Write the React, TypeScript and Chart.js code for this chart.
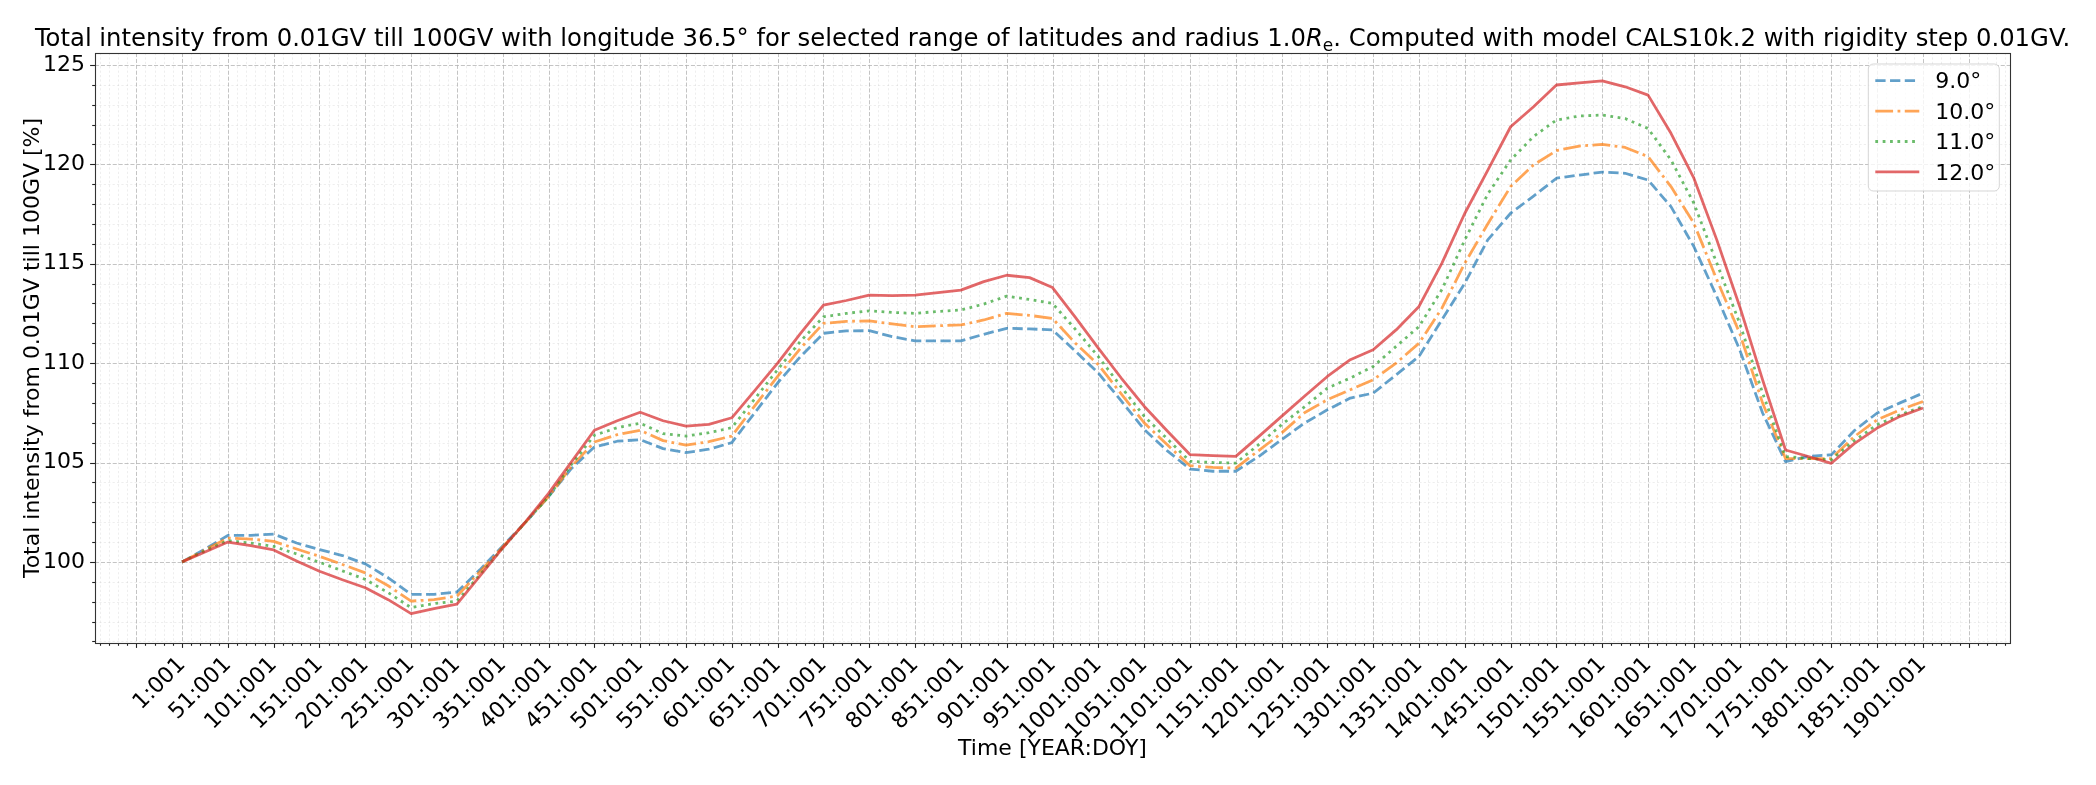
import React, { useEffect, useRef } from 'react';
import { Chart, registerables } from 'chart.js';

Chart.register(...registerables);

// ---------------- data ----------------
const YEARS = [1, 26, 51, 76, 101, 126, 151, 176, 201, 226, 251, 276, 301, 326, 351, 376, 401, 426, 451, 476, 501, 526, 551, 576, 601, 626, 651, 676, 701, 726, 751, 776, 801, 826, 851, 876, 901, 926, 951, 976, 1001, 1026, 1051, 1076, 1101, 1126, 1151, 1176, 1201, 1226, 1251, 1276, 1301, 1326, 1351, 1376, 1401, 1426, 1451, 1476, 1501, 1526, 1551, 1576, 1601, 1626, 1651, 1676, 1701, 1726, 1751, 1776, 1801, 1826, 1851, 1876, 1901];

const LAT_9 = [100.0, 100.65, 101.33, 101.33, 101.4, 100.95, 100.62, 100.32, 99.9, 99.2, 98.37, 98.37, 98.48, 99.6, 100.8, 102.0, 103.28, 104.7, 105.78, 106.07, 106.15, 105.7, 105.5, 105.67, 106.0, 107.5, 109.0, 110.33, 111.5, 111.62, 111.63, 111.33, 111.12, 111.12, 111.12, 111.45, 111.75, 111.72, 111.67, 110.6, 109.5, 108.1, 106.67, 105.6, 104.67, 104.56, 104.56, 105.3, 106.15, 106.98, 107.65, 108.24, 108.49, 109.41, 110.34, 112.18, 114.02, 116.2, 117.54, 118.4, 119.3, 119.46, 119.61, 119.55, 119.21, 117.87, 115.86, 113.35, 110.67, 107.49, 105.04, 105.3, 105.39, 106.6, 107.49, 108.0, 108.49];

const LAT_10 = [100.0, 100.6, 101.2, 101.15, 101.03, 100.65, 100.28, 99.87, 99.45, 98.8, 98.03, 98.1, 98.28, 99.5, 100.75, 102.0, 103.28, 104.8, 106.03, 106.4, 106.62, 106.1, 105.87, 106.05, 106.33, 107.85, 109.33, 110.75, 112.0, 112.1, 112.12, 111.97, 111.83, 111.88, 111.92, 112.17, 112.5, 112.4, 112.25, 111.0, 109.92, 108.45, 107.0, 105.9, 104.84, 104.75, 104.72, 105.6, 106.48, 107.5, 108.16, 108.66, 109.16, 110.0, 111.0, 112.76, 115.03, 117.0, 118.88, 119.97, 120.69, 120.92, 121.0, 120.85, 120.39, 118.88, 117.03, 114.2, 111.5, 107.99, 105.2, 105.2, 105.2, 106.3, 107.15, 107.65, 108.07];

const LAT_11 = [100.0, 100.55, 101.07, 100.95, 100.78, 100.4, 99.98, 99.55, 99.12, 98.45, 97.7, 97.9, 98.03, 99.35, 100.7, 102.0, 103.28, 104.9, 106.37, 106.75, 106.98, 106.45, 106.33, 106.5, 106.75, 108.2, 109.67, 111.1, 112.33, 112.5, 112.63, 112.55, 112.5, 112.6, 112.67, 112.97, 113.37, 113.2, 113.0, 111.7, 110.33, 108.8, 107.33, 106.2, 105.06, 105.0, 104.97, 105.9, 106.9, 107.8, 108.74, 109.25, 109.83, 110.84, 111.84, 113.7, 116.2, 118.5, 120.22, 121.4, 122.23, 122.43, 122.48, 122.3, 121.8, 120.22, 118.04, 115.03, 112.0, 108.49, 105.3, 105.2, 105.13, 106.1, 106.9, 107.4, 107.82];

const LAT_12 = [100.0, 100.5, 101.0, 100.82, 100.6, 100.05, 99.53, 99.1, 98.7, 98.1, 97.4, 97.65, 97.87, 99.28, 100.7, 102.03, 103.45, 105.03, 106.62, 107.1, 107.53, 107.1, 106.83, 106.92, 107.25, 108.62, 110.0, 111.5, 112.92, 113.15, 113.42, 113.4, 113.42, 113.55, 113.67, 114.1, 114.42, 114.3, 113.8, 112.3, 110.75, 109.25, 107.83, 106.6, 105.4, 105.35, 105.31, 106.3, 107.32, 108.33, 109.33, 110.17, 110.67, 111.67, 112.85, 115.03, 117.54, 119.7, 121.89, 122.9, 123.99, 124.1, 124.2, 123.9, 123.48, 121.56, 119.3, 116.2, 112.85, 109.16, 105.63, 105.3, 104.96, 105.95, 106.73, 107.32, 107.74];

const SERIES_LABELS = ['9.0°', '10.0°', '11.0°', '12.0°'];

// x tick positions (years); labelled ones get "YEAR:001"
const X_MAJOR_TICKS = [-49, 1, 51, 101, 151, 201, 251, 301, 351, 401, 451, 501, 551, 601, 651, 701, 751, 801, 851, 901, 951, 1001, 1051, 1101, 1151, 1201, 1251, 1301, 1351, 1401, 1451, 1501, 1551, 1601, 1651, 1701, 1751, 1801, 1851, 1901, 1951];
const X_LABELLED_YEARS = [1, 51, 101, 151, 201, 251, 301, 351, 401, 451, 501, 551, 601, 651, 701, 751, 801, 851, 901, 951, 1001, 1051, 1101, 1151, 1201, 1251, 1301, 1351, 1401, 1451, 1501, 1551, 1601, 1651, 1701, 1751, 1801, 1851, 1901];
const Y_MAJOR_TICKS = [100, 105, 110, 115, 120, 125];

const X_MIN = -94;
const X_MAX = 1996;
const Y_MIN = 95.92;
const Y_MAX = 125.6;

const TITLE_BEFORE = 'Total intensity from 0.01GV till 100GV with longitude 36.5° for selected range of latitudes and radius 1.0';
const TITLE_SYMBOL = 'R';
const TITLE_SUB = 'e';
const TITLE_AFTER = '. Computed with model CALS10k.2 with rigidity step 0.01GV.';
const X_TITLE = 'Time [YEAR:DOY]';
const Y_TITLE = 'Total intensity from 0.01GV till 100GV [%]';

// ---------------- styles ----------------
const FONT = "'DejaVu Sans', sans-serif";
const LW = 2.78;
const STYLES = [
  { color: 'rgba(31,119,180,0.7)', dash: [3.7 * LW, 1.6 * LW] },
  { color: 'rgba(255,127,14,0.7)', dash: [6.4 * LW, 1.6 * LW, 1 * LW, 1.6 * LW] },
  { color: 'rgba(44,160,44,0.7)', dash: [1 * LW, 1.65 * LW] },
  { color: 'rgba(214,39,40,0.7)', dash: [] as number[] },
];
const SERIES = [LAT_9, LAT_10, LAT_11, LAT_12];

const gridPlugin = {
  id: 'mplGrid',
  beforeDatasetsDraw(chart: any) {
    const { ctx, chartArea: a, scales } = chart;
    const x = scales.x;
    const y = scales.y;
    ctx.save();
    ctx.beginPath();
    ctx.rect(a.left, a.top, a.right - a.left, a.bottom - a.top);
    ctx.clip();
    // minor grid
    ctx.lineWidth = 0.8;
    ctx.strokeStyle = 'rgba(176,176,176,0.28)';
    ctx.setLineDash([2.2, 2.2]);
    for (let v = -89; v <= 1996; v += 10) {
      if (X_MAJOR_TICKS.includes(v)) continue;
      const px = Math.round(x.getPixelForValue(v)) + 0.5;
      ctx.beginPath(); ctx.moveTo(px, a.top); ctx.lineTo(px, a.bottom); ctx.stroke();
    }
    for (let v = 96; v <= 125; v += 1) {
      if (Y_MAJOR_TICKS.includes(v)) continue;
      const py = Math.round(y.getPixelForValue(v)) + 0.5;
      ctx.beginPath(); ctx.moveTo(a.left, py); ctx.lineTo(a.right, py); ctx.stroke();
    }
    // major grid
    ctx.lineWidth = 1;
    ctx.strokeStyle = 'rgba(176,176,176,0.75)';
    ctx.setLineDash([4.1, 1.8]);
    for (const v of X_MAJOR_TICKS) {
      const px = Math.round(x.getPixelForValue(v)) + 0.5;
      ctx.beginPath(); ctx.moveTo(px, a.top); ctx.lineTo(px, a.bottom); ctx.stroke();
    }
    for (const v of Y_MAJOR_TICKS) {
      const py = Math.round(y.getPixelForValue(v)) + 0.5;
      ctx.beginPath(); ctx.moveTo(a.left, py); ctx.lineTo(a.right, py); ctx.stroke();
    }
    ctx.restore();
  },
  afterDraw(chart: any) {
    const { ctx, chartArea: a, scales } = chart;
    const x = scales.x;
    const y = scales.y;
    ctx.save();
    ctx.setLineDash([]);
    ctx.strokeStyle = '#222';
    ctx.lineWidth = 1.1;
    // ticks
    for (let v = -89; v <= 1996; v += 10) {
      const major = X_MAJOR_TICKS.includes(v);
      const px = Math.round(x.getPixelForValue(v)) + 0.5;
      ctx.beginPath(); ctx.moveTo(px, a.bottom); ctx.lineTo(px, a.bottom + (major ? 4.9 : 2.8)); ctx.stroke();
    }
    for (let v = 96; v <= 125; v += 1) {
      const major = Y_MAJOR_TICKS.includes(v);
      const py = Math.round(y.getPixelForValue(v)) + 0.5;
      ctx.beginPath(); ctx.moveTo(a.left, py); ctx.lineTo(a.left - (major ? 4.9 : 2.8), py); ctx.stroke();
    }
    // frame
    ctx.strokeStyle = '#333';
    ctx.lineWidth = 1.1;
    ctx.strokeRect(Math.round(a.left) + 0.5, Math.round(a.top) + 0.5, Math.round(a.right - a.left), Math.round(a.bottom - a.top));
    ctx.restore();
  },
};

const titlePlugin = {
  id: 'mplTitle',
  afterDraw(chart: any) {
    const { ctx, chartArea: a } = chart;
    const fs = 24.3;
    const parts = [
      { t: TITLE_BEFORE, font: `${fs}px ${FONT}`, dy: 0 },
      { t: TITLE_SYMBOL, font: `italic ${fs}px ${FONT}`, dy: 0 },
      { t: TITLE_SUB, font: `${(fs * 0.7).toFixed(1)}px ${FONT}`, dy: fs * 0.2 },
      { t: TITLE_AFTER, font: `${fs}px ${FONT}`, dy: 0 },
    ];
    ctx.save();
    let total = 0;
    const widths = parts.map((p) => {
      ctx.font = p.font;
      const w = ctx.measureText(p.t).width;
      total += w;
      return w;
    });
    let xx = (a.left + a.right) / 2 - total / 2;
    const base = a.top - 7;
    ctx.fillStyle = '#000';
    ctx.textBaseline = 'alphabetic';
    ctx.textAlign = 'left';
    parts.forEach((p, i) => {
      ctx.font = p.font;
      ctx.fillText(p.t, xx, base + p.dy);
      xx += widths[i];
    });
    ctx.restore();
  },
};

const legendPlugin = {
  id: 'mplLegend',
  afterDraw(chart: any) {
    const { ctx, chartArea: a } = chart;
    const bw = 131;
    const bh = 127;
    const bx = a.right - 10.7 - bw;
    const by = a.top + 11;
    const r = 5;
    ctx.save();
    ctx.beginPath();
    ctx.moveTo(bx + r, by);
    ctx.arcTo(bx + bw, by, bx + bw, by + bh, r);
    ctx.arcTo(bx + bw, by + bh, bx, by + bh, r);
    ctx.arcTo(bx, by + bh, bx, by, r);
    ctx.arcTo(bx, by, bx + bw, by, r);
    ctx.closePath();
    ctx.fillStyle = 'rgba(255,255,255,0.8)';
    ctx.fill();
    ctx.strokeStyle = 'rgba(204,204,204,0.8)';
    ctx.lineWidth = 1;
    ctx.stroke();
    chart.data.datasets.forEach((ds: any, i: number) => {
      const ly = by + 16.7 + i * 30.4;
      ctx.beginPath();
      ctx.setLineDash(ds.borderDash || []);
      ctx.strokeStyle = ds.borderColor;
      ctx.lineWidth = ds.borderWidth;
      ctx.lineCap = 'butt';
      ctx.moveTo(bx + 7, ly);
      ctx.lineTo(bx + 51, ly);
      ctx.stroke();
      ctx.setLineDash([]);
      ctx.fillStyle = '#000';
      ctx.font = `22px ${FONT}`;
      ctx.textBaseline = 'alphabetic';
      ctx.textAlign = 'left';
      ctx.fillText(ds.label, bx + 67, ly + 7.6);
    });
    ctx.restore();
  },
};

export default function App() {
  const ref = useRef<HTMLCanvasElement>(null);
  useEffect(() => {
    if (!ref.current) return;
    const datasets = SERIES.map((vals, i) => ({
      label: SERIES_LABELS[i],
      data: YEARS.map((yr, j) => ({ x: yr, y: vals[j] })),
      borderColor: STYLES[i].color,
      backgroundColor: STYLES[i].color,
      borderWidth: LW,
      borderDash: STYLES[i].dash,
      borderCapStyle: 'butt',
      borderJoinStyle: 'round',
      pointRadius: 0,
      pointHoverRadius: 0,
      tension: 0,
      fill: false,
      order: 3 - i,
    }));
    const chart = new Chart(ref.current, {
      type: 'line',
      data: { datasets } as any,
      options: {
        responsive: false,
        animation: false,
        devicePixelRatio: 1,
        events: [],
        layout: { padding: { top: 53, right: 86, left: 0, bottom: 0 } },
        plugins: {
          legend: { display: false },
          tooltip: { enabled: false },
          title: { display: false },
        },
        scales: {
          x: {
            type: 'linear',
            min: X_MIN,
            max: X_MAX,
            afterBuildTicks: (scale: any) => {
              scale.ticks = X_MAJOR_TICKS.map((v) => ({ value: v }));
            },
            afterFit: (scale: any) => {
              scale.height = 142;
            },
            ticks: {
              autoSkip: false,
              maxRotation: 45,
              minRotation: 45,
              padding: 4,
              color: '#000',
              font: { family: FONT, size: 22 },
              callback: (value: any) => (X_LABELLED_YEARS.includes(value) ? `${value}:001` : ''),
            },
            grid: {
              display: true,
              drawOnChartArea: false,
              drawTicks: true,
              tickLength: 5,
              color: 'rgba(0,0,0,0)',
              tickColor: 'rgba(0,0,0,0)',
            },
            border: { display: false },
            title: {
              display: true,
              text: X_TITLE,
              color: '#000',
              font: { family: FONT, size: 22 },
              padding: { top: 0, bottom: 23 },
            },
          },
          y: {
            type: 'linear',
            min: Y_MIN,
            max: Y_MAX,
            afterBuildTicks: (scale: any) => {
              scale.ticks = Y_MAJOR_TICKS.map((v) => ({ value: v }));
            },
            afterFit: (scale: any) => {
              scale.width = 95;
            },
            ticks: {
              padding: 5,
              color: '#000',
              font: { family: FONT, size: 22 },
              callback: (value: any) => String(value),
            },
            grid: {
              display: true,
              drawOnChartArea: false,
              drawTicks: true,
              tickLength: 5,
              color: 'rgba(0,0,0,0)',
              tickColor: 'rgba(0,0,0,0)',
            },
            border: { display: false },
            title: {
              display: true,
              text: Y_TITLE,
              color: '#000',
              font: { family: FONT, size: 22 },
              padding: { top: 20, bottom: 0 },
            },
          },
        },
      } as any,
      plugins: [gridPlugin, titlePlugin, legendPlugin],
    });
    return () => chart.destroy();
  }, []);
  return (
    <div style={{ position: 'absolute', left: 0, top: 0, width: 2096, height: 785, background: '#fff' }}>
      <canvas ref={ref} width={2096} height={785} style={{ display: 'block', width: 2096, height: 785 }} />
    </div>
  );
}
